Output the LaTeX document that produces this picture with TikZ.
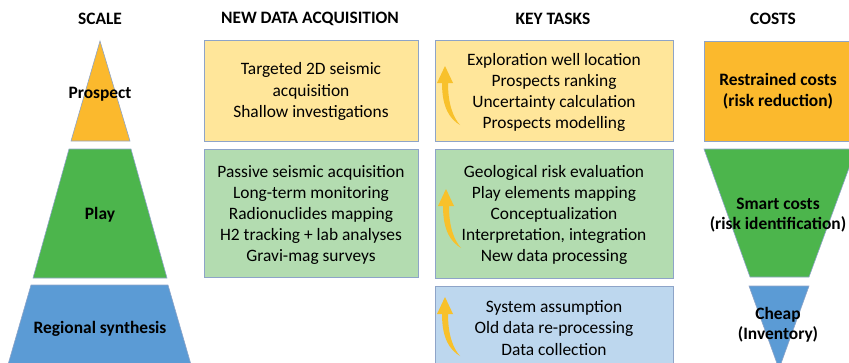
\documentclass[tikz,border=0pt]{standalone}
\usepackage{fontspec}
\setmainfont{Carlito}
\definecolor{cOr}{HTML}{FBB92D}
\definecolor{cGr}{HTML}{4CB54C}
\definecolor{cBl}{HTML}{5B9BD5}
\definecolor{cLy}{HTML}{FFE69A}
\definecolor{cLg}{HTML}{B3DCB0}
\definecolor{cLb}{HTML}{BDD7EE}
\definecolor{cEdge}{HTML}{8EA4C8}
\definecolor{cArr}{HTML}{F8C12B}
\tikzset{
  hdr/.style={font=\fontsize{17.4}{20}\selectfont\bfseries, anchor=center, inner sep=0pt},
  lbl/.style={font=\fontsize{17.4}{20.5}\selectfont\bfseries, align=center, anchor=center, inner sep=0pt},
  body/.style={font=\fontsize{17.4}{21.2}\selectfont, align=center, anchor=center, inner sep=0pt},
  shp/.style={draw=cEdge, line width=0.6pt},
  yarrow/.pic={\fill[cArr] (0,0) -- (8,17) -- (3,17) .. controls (3,38) and (8,51) .. (15,59)
      .. controls (5,53) and (-3,42) .. (-3,17) -- (-8,17) -- cycle;}
}
\begin{document}
\begin{tikzpicture}[x=1pt,y=-1pt]
\useasboundingbox (0,0) rectangle (849,362);
\clip (0,0) rectangle (849,362);
% headers
\node[hdr] (hscale) at (100,19) {SCALE};
\node[hdr] (hnew) at (310,19) {NEW DATA ACQUISITION};
\node[hdr] (hkey) at (553,19) {KEY TASKS};
\node[hdr] (hcost) at (773,19) {COSTS};
% scale pyramid
\fill[cOr, shp] (100,41) -- (130,141) -- (71,141) -- cycle;
\fill[cGr, shp] (69,149) -- (131,149) -- (167,278) -- (33,278) -- cycle;
\fill[cBl, shp] (31,285) -- (168,285) -- (194,375) -- (5,375) -- cycle;
\node[lbl] (lprospect) at (100,94) {Prospect};
\node[lbl] (lplay) at (100,215) {Play};
\node[lbl] (lregional) at (100,329) {Regional synthesis};
% new data acquisition boxes
\fill[cLy, shp] (204,40) rectangle (418,141);
\fill[cLg, shp] (204,149) rectangle (418,277);
\node[body] (nd1) at (311,91.5) {Targeted 2D seismic\\acquisition\\Shallow investigations};
\node[body] (nd2) at (311,215) {Passive seismic acquisition\\Long-term monitoring\\Radionuclides mapping\\H2 tracking + lab analyses\\Gravi-mag surveys};
% key tasks boxes
\fill[cLy, shp] (435,40) rectangle (673,141);
\fill[cLg, shp] (435,149) rectangle (673,278);
\fill[cLb, shp] (435,286) rectangle (673,375);
\pic at (445,66) {yarrow};
\pic at (446,189) {yarrow};
\pic at (445,297) {yarrow};
\node[body] (kt1) at (554,92.5) {Exploration well location\\Prospects ranking\\Uncertainty calculation\\Prospects modelling};
\node[body] (kt2) at (554,215) {Geological risk evaluation\\Play elements mapping\\Conceptualization\\Interpretation, integration\\New data processing};
\node[body] (kt3) at (554,328) {System assumption\\Old data re-processing\\Data collection};
% costs
\fill[cOr, shp] (704,41) rectangle (860,141);
\fill[cGr, shp] (704,149) -- (856,149) -- (809,277) -- (750,277) -- cycle;
\fill[cBl, shp] (749,286) -- (809,286) -- (779,369) -- cycle;
\node[lbl] (c1) at (778,91) {Restrained costs\\(risk reduction)};
\node[lbl] (c2) at (778,215) {Smart costs\\(risk identification)};
\node[lbl] (c3) at (778,325) {Cheap\\(Inventory)};
\end{tikzpicture}
\end{document}
